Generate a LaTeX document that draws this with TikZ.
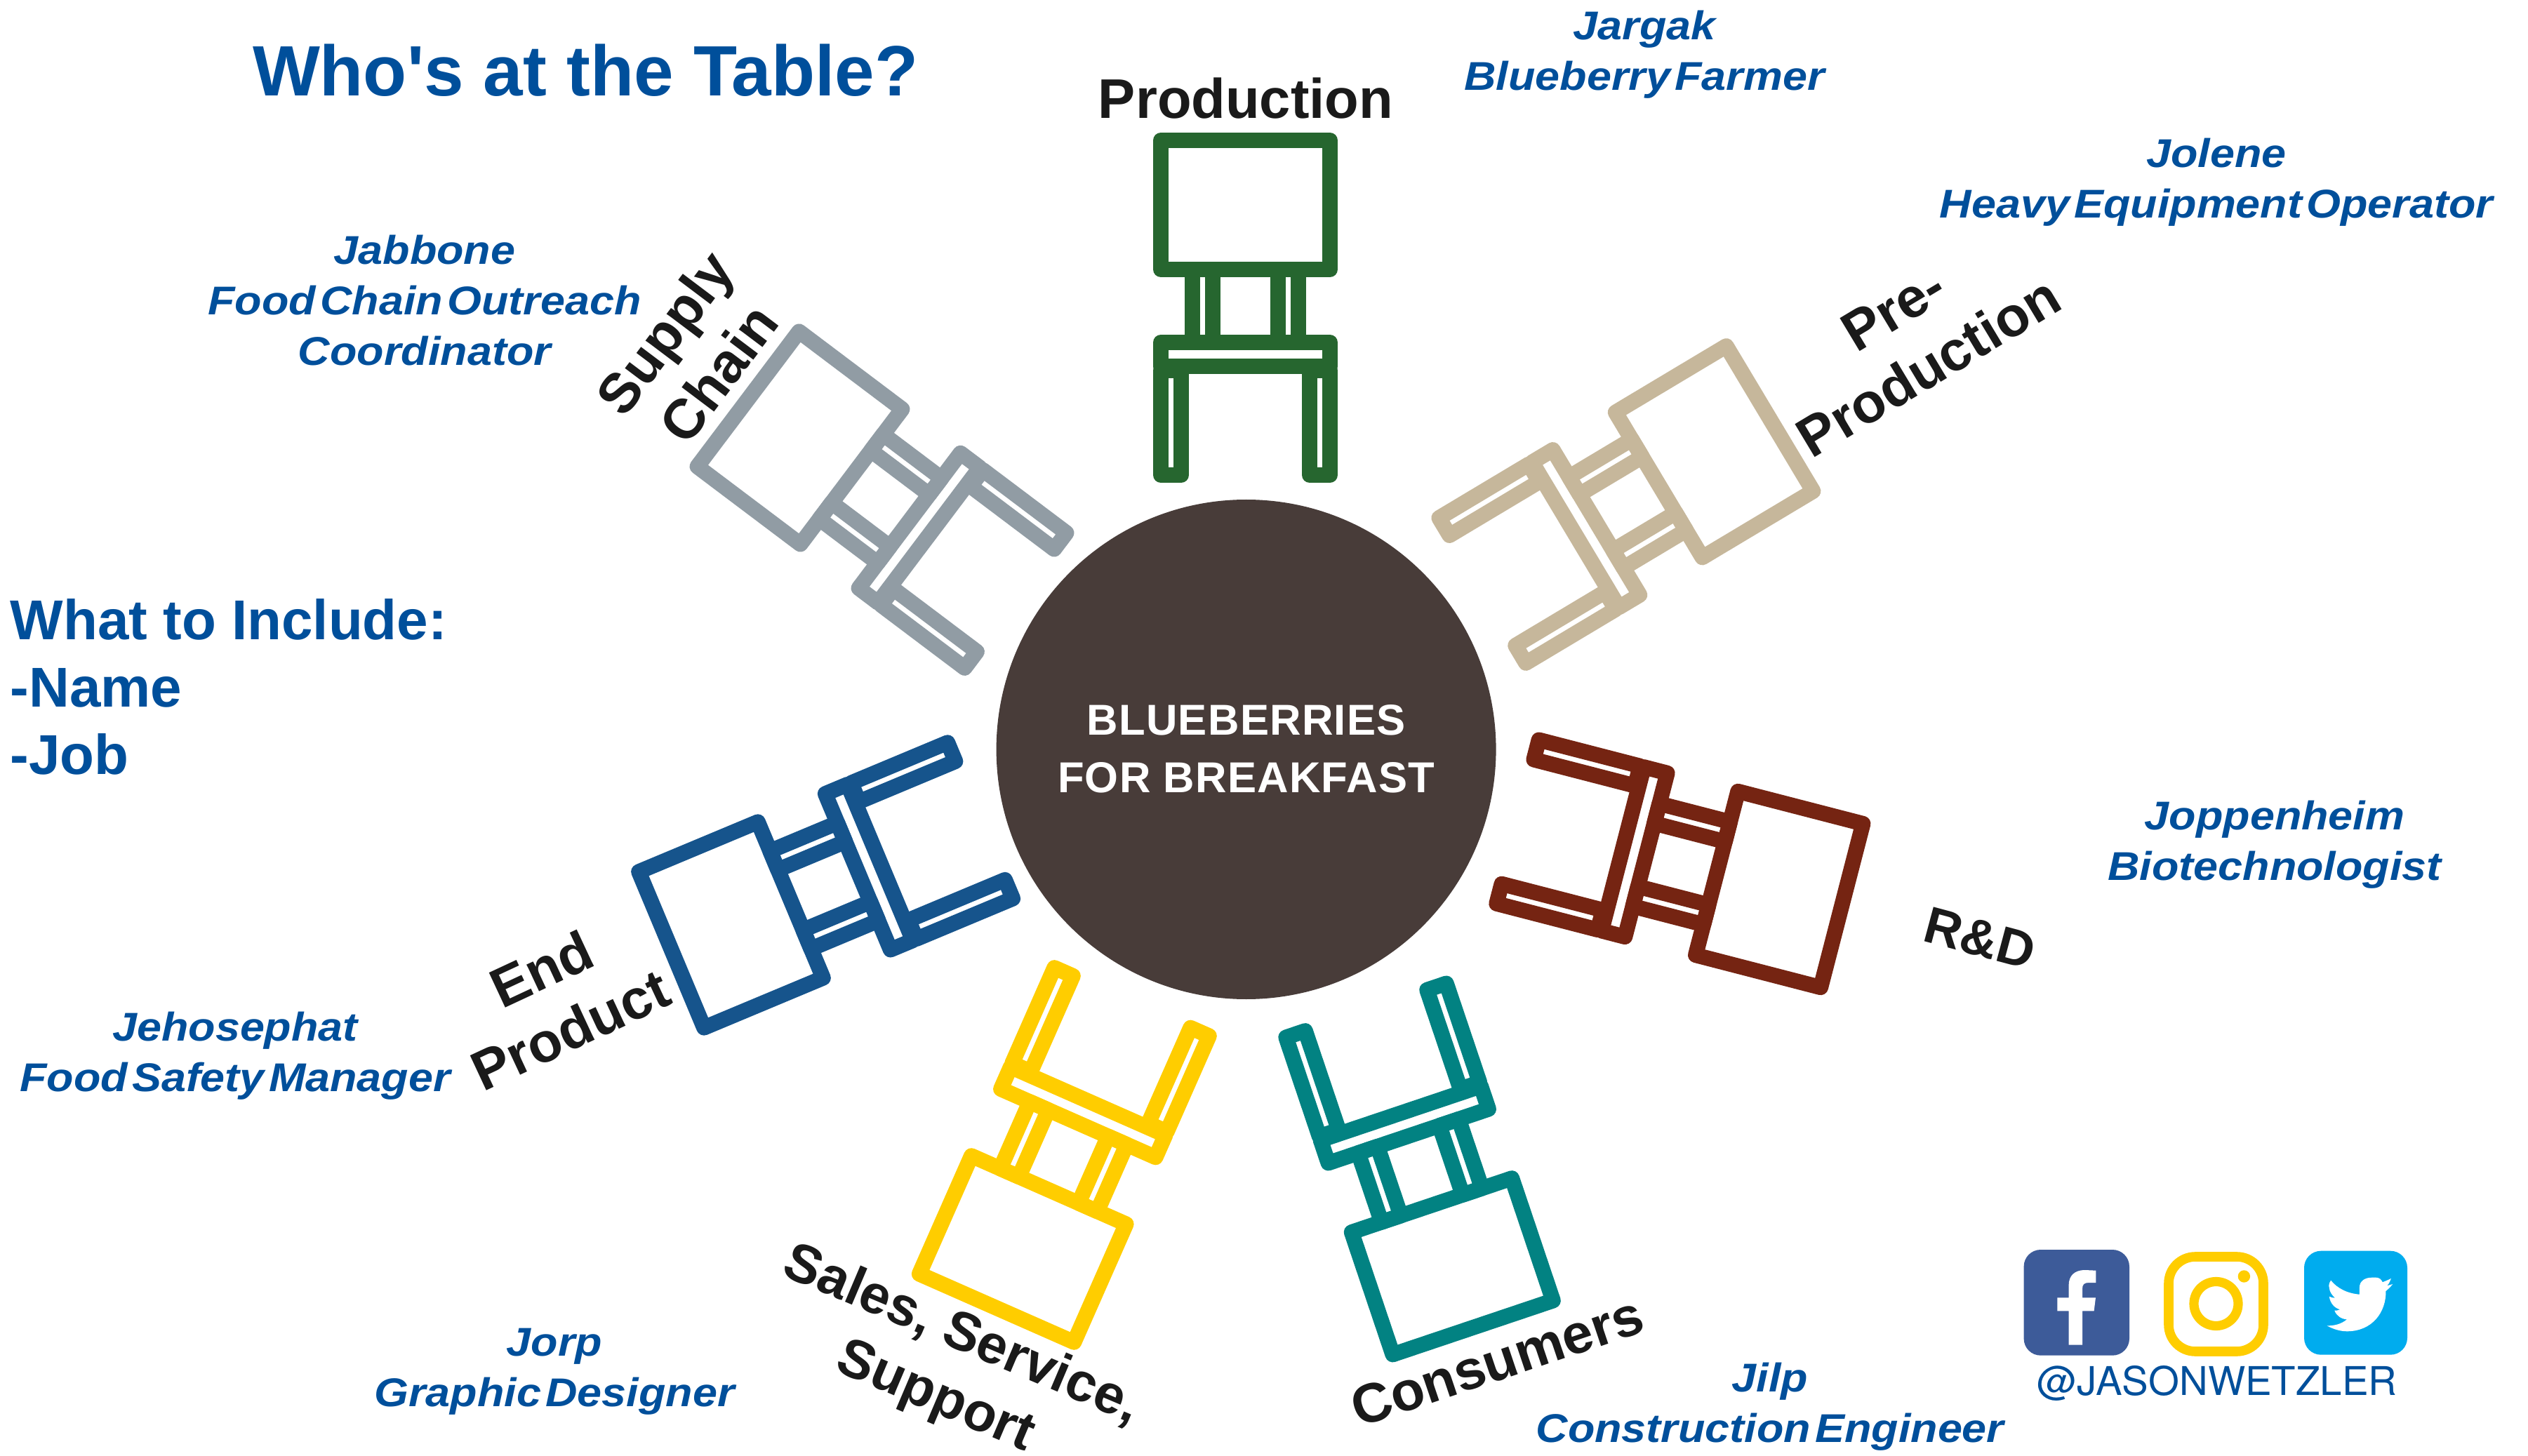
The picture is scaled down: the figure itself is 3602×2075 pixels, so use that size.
\documentclass[tikz,border=0pt]{standalone}
\usepackage{fontspec}
\setmainfont{Liberation Sans}[Ligatures=ResetAll]
\newfontfamily\tablefont{Liberation Sans}[LetterSpace=2]
\newfontfamily\personfont{Liberation Sans}[FakeStretch=1.1,WordSpace=0.35]
\newfontfamily\handlefont{TeX Gyre Heros}
\definecolor{cgreen}{HTML}{26662F}
\definecolor{cgrey}{HTML}{919CA4}
\definecolor{ctan}{HTML}{C6B79B}
\definecolor{cbrown}{HTML}{752412}
\definecolor{cteal}{HTML}{028282}
\definecolor{cyellow}{HTML}{FFCD00}
\definecolor{cblue}{HTML}{16548C}
\definecolor{ctable}{HTML}{483C39}
\definecolor{ctext}{HTML}{004F9B}
\definecolor{cblack}{HTML}{1A1A1A}
\definecolor{cfb}{HTML}{3D5B99}
\definecolor{ctw}{HTML}{00ACEE}
\tikzset{
  chairline/.style={line width=5.5pt,line join=round},
  role/.style={font=\bfseries\fontsize{19.9}{24}\selectfont,text=cblack,align=center,inner sep=0pt},
  person/.style={font=\personfont\bfseries\itshape\fontsize{14.3}{18}\selectfont,text=ctext,align=center,inner sep=0pt},
}
\newcommand{\chairat}[4]{%
  \begin{scope}[shift={(#1,-#2)},rotate=#3,draw=#4,chairline]
    \draw (-120.5,-92) rectangle (120.5,92);
    \draw (-120.5,-196) rectangle (120.5,-230.5);
    \draw (-75.5,-92) rectangle (-46.5,-196);
    \draw (46.5,-92) rectangle (75.5,-196);
    \draw (-120.5,-236) rectangle (-91.5,-385);
    \draw (91.5,-236) rectangle (120.5,-385);
  \end{scope}}
\begin{document}
\begin{tikzpicture}[x=0.25pt,y=0.25pt]
\useasboundingbox (0,-2075) rectangle (3602,0);
\fill[white] (0,-2075) rectangle (3602,0);
% chairs
\chairat{1774.5}{292}{0}{cgreen}
\chairat{1139.5}{624}{53}{cgrey}
\chairat{2442.6}{643.8}{-59.1}{ctan}
\chairat{2535.2}{1267.5}{-104.5}{cbrown}
\chairat{2069.3}{1804.8}{-161.4}{cteal}
\chairat{1457.2}{1780}{156.2}{cyellow}
\chairat{1041.5}{1318}{112.7}{cblue}
% table
\node[circle,fill=ctable,minimum size=178pt,inner sep=0pt] (tbl) at (1775.6,-1068) {};
\node[font=\tablefont\bfseries\fontsize{15.4}{20.5}\selectfont,text=white,align=center,inner sep=0pt] (tbltxt) at (1775.6,-1067) {BLUEBERRIES\\FOR BREAKFAST};
% title
\node[font=\bfseries\fontsize{25.4}{30}\selectfont,text=ctext,inner sep=0pt] (title) at (834,-100) {Who\textquotesingle s at the Table?};
\node[font=\bfseries\fontsize{20}{24.1}\selectfont,text=ctext,align=left,inner sep=0pt,anchor=west] (incl) at (14,-979) {What to Include:\\-Name\\-Job};
% roles
\node[role] (rprod) at (1775,-140) {Production};
\node[role,rotate=31] (rpre) at (2723,-482) {Pre-\\Production};
\node[role,rotate=53] (rsup) at (985,-503) {Supply\\Chain};
\node[role,rotate=-15,font=\bfseries\fontsize{18.4}{24}\selectfont] (rrd) at (2821,-1337) {R\&D};
\node[role,rotate=18.6,font=\bfseries\fontsize{19.7}{24}\selectfont] (rcon) at (2133,-1940) {Consumers};
\node[role,rotate=-23,font=\bfseries\fontsize{19.4}{24}\selectfont] (rsal) at (1351,-1948) {Sales, Service,\\Support};
\node[role,rotate=25] (rend) at (792,-1424) {End\\Product};
% people
\node[person] (p1) at (2343,-78) {Jargak\\Blueberry Farmer};
\node[person] (p2) at (3158,-260) {Jolene\\Heavy Equipment Operator};
\node[person] (p3) at (605,-428) {Jabbone\\Food Chain Outreach\\Coordinator};
\node[person] (p4) at (3241,-1204) {Joppenheim\\Biotechnologist};
\node[person] (p5) at (335,-1505) {Jehosephat\\Food Safety Manager};
\node[person] (p6) at (790,-1955) {Jorp\\Graphic Designer};
\node[person] (p7) at (2522,-2005) {Jilp\\Construction Engineer};
% social
\fill[cfb,rounded corners=6pt] (2883.6,-1781) rectangle (3034,-1931.7);
\fill[white] (2947.6,-1916.7) -- (2967,-1916.7) -- (2967,-1868.3) -- (2983.6,-1868.3) -- (2986,-1849.3) -- (2967,-1849.3) -- (2967,-1836.7) .. controls (2967,-1830) and (2970,-1828) .. (2976.5,-1828) -- (2986.4,-1828) -- (2986.4,-1810.7) -- (2970.6,-1810) .. controls (2956,-1810) and (2947.6,-1818) .. (2947.6,-1831.7) -- (2947.6,-1849.3) -- (2931.4,-1849.3) -- (2931.4,-1868.3) -- (2947.6,-1868.3) -- cycle;
\draw[cyellow,line width=3.4pt,rounded corners=9.5pt] (3090,-1791) rectangle (3225,-1926);
\draw[cyellow,line width=3.3pt] (3157.5,-1858) circle[radius=31.5];
\fill[cyellow] (3197.4,-1819) circle[radius=8.7];
\fill[ctw,rounded corners=6pt] (3283,-1782.7) rectangle (3430,-1930.7);
\fill[white] (3406.9,-1822) .. controls (3402,-1824.5) and (3398,-1826) .. (3394.7,-1827.3) .. controls (3391,-1819) and (3385,-1820.7) .. (3379.6,-1820.7) .. controls (3369,-1820.7) and (3361.9,-1826) .. (3361.9,-1835) -- (3361.9,-1844.7) .. controls (3345,-1843.5) and (3330,-1836) .. (3321.1,-1824.7) .. controls (3318,-1829) and (3318,-1833) .. (3318.8,-1835) .. controls (3319,-1841) and (3323,-1846) .. (3327,-1849.7) .. controls (3324,-1849.7) and (3321,-1849) .. (3318.8,-1847.7) .. controls (3320,-1857) and (3326,-1864) .. (3334.2,-1866.3) .. controls (3331,-1867.7) and (3329,-1867.7) .. (3326.3,-1867.7) .. controls (3329,-1875) and (3336,-1880) .. (3344,-1880.3) .. controls (3336,-1887) and (3326,-1889.5) .. (3315.6,-1889.3) .. controls (3324,-1894) and (3334,-1897.3) .. (3344,-1897.3) .. controls (3380,-1897.3) and (3400,-1870) .. (3399.4,-1840) .. controls (3403,-1837) and (3407,-1833) .. (3409.3,-1830) .. controls (3405,-1831.5) and (3402,-1832) .. (3398.6,-1832.7) .. controls (3402,-1834) and (3405,-1827) .. (3406.9,-1822) -- cycle;
\node[font=\handlefont\fontsize{14.1}{18}\selectfont,text=ctext,inner sep=0pt] (handle) at (3159,-1971) {@JASONWETZLER};
\end{tikzpicture}
\end{document}
